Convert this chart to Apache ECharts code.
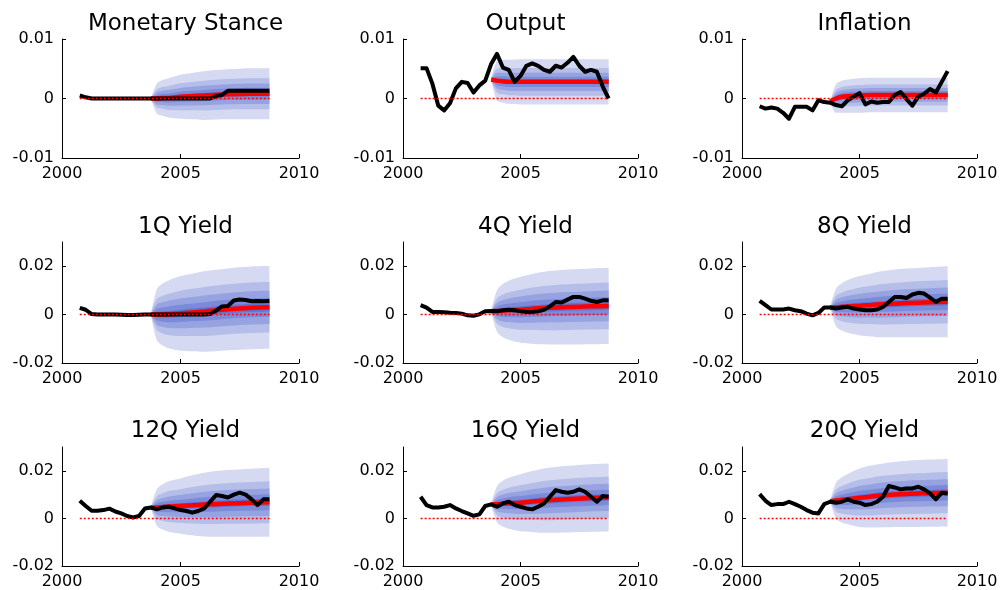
<!DOCTYPE html>
<html>
<head>
<meta charset="utf-8">
<title>Fan charts</title>
<script src="https://cdn.jsdelivr.net/npm/echarts@6/dist/echarts.min.js"></script>
<style>
  html, body { margin: 0; padding: 0; background: #ffffff; }
  #fan-grid { width: 1005px; height: 590px; }
</style>
</head>
<body>
<div id="fan-grid"></div>
<script>
// x axis runs quarter by quarter from 2000 to 2010
var axisQuarters = [2000, 2000.25, 2000.5, 2000.75, 2001, 2001.25, 2001.5, 2001.75, 2002, 2002.25,
    2002.5, 2002.75, 2003, 2003.25, 2003.5, 2003.75, 2004, 2004.25, 2004.5, 2004.75, 2005, 2005.25,
    2005.5, 2005.75, 2006, 2006.25, 2006.5, 2006.75, 2007, 2007.25, 2007.5, 2007.75, 2008, 2008.25,
    2008.5, 2008.75, 2009, 2009.25, 2009.5, 2009.75, 2010];
// quarterly history, 2000Q4 .. 2008Q4
var quarterDates = [2000.75, 2001, 2001.25, 2001.5, 2001.75, 2002, 2002.25, 2002.5, 2002.75,
    2003, 2003.25, 2003.5, 2003.75, 2004, 2004.25, 2004.5, 2004.75, 2005, 2005.25, 2005.5, 2005.75,
    2006, 2006.25, 2006.5, 2006.75, 2007, 2007.25, 2007.5, 2007.75, 2008, 2008.25, 2008.5, 2008.75];
// dates where the forecast median and fan width were read
var fanDates = [2003.75, 2004, 2004.25, 2004.5, 2005, 2005.5, 2006, 2007, 2008, 2008.75];

var xTicks = ['2000', '2005', '2010'];
var yTicksMacro = [-0.01, 0, 0.01];
var yTicksYield = [-0.02, 0, 0.02];

// band half widths as share of the outer half width, outer -> inner
var fanShares = [1, 0.61, 0.4, 0.23, 0.1];
var fanColors = ['#d5d9f1', '#b5bde9', '#97a3e1', '#7b8bda', '#5f74d3'];

var panelTitles = ['Monetary Stance', 'Output', 'Inflation', '1Q Yield', '4Q Yield', '8Q Yield',
    '12Q Yield', '16Q Yield', '20Q Yield'];

var actualMonetary = [0.0005, 0.0002, 0, 0, 0, 0, 0, 0, 0, 0, 0, 0, 0, 0, 0, 0, 0, 0, 0, 0, 0, 0, 0,
    0.0004, 0.0006, 0.0013, 0.0013, 0.0013, 0.0013, 0.0013, 0.0013, 0.0013, 0.0013];
var actualOutput = [0.0051, 0.0051, 0.0025, -0.0012, -0.002, -0.0008, 0.0017, 0.0028, 0.0026, 0.001,
    0.0022, 0.003, 0.0058, 0.0075, 0.0052, 0.0048, 0.0028, 0.0038, 0.0055, 0.0059, 0.0055, 0.0048,
    0.0045, 0.0055, 0.0052, 0.006, 0.007, 0.0055, 0.0045, 0.0048, 0.0045, 0.002, 0];
var actualInflation = [-0.0013, -0.0017, -0.0015, -0.0017, -0.0024, -0.0034, -0.0014, -0.0014, -0.0014,
    -0.002, -0.0003, -0.0006, -0.0007, -0.0011, -0.0013, -0.0003, 0.0003, 0.0009, -0.001, -0.0005,
    -0.0007, -0.0006, -0.0006, 0.0006, 0.0011, -0.0001, -0.0012, 0.0003, 0.0008, 0.0016, 0.001, 0.0028, 0.0046];
var actual1Q = [0.0028, 0.002, 0.0002, 0, 0, 0, 0, -0.0001, -0.0002, -0.0002, -0.0001, 0, 0, 0, 0, 0,
    0, 0, 0, 0, 0, 0, 0.0002, 0.0016, 0.0034, 0.0036, 0.0058, 0.0062, 0.006, 0.0055, 0.0056, 0.0055, 0.0056];
var actual4Q = [0.0039, 0.0029, 0.0011, 0.0011, 0.001, 0.0008, 0.0007, 0.0004, -0.0003, -0.0005, 0.0001,
    0.0014, 0.0015, 0.0014, 0.0018, 0.002, 0.0018, 0.0014, 0.0011, 0.0011, 0.0014, 0.002, 0.0034, 0.0052,
    0.005, 0.0062, 0.0073, 0.0073, 0.0066, 0.0057, 0.0052, 0.0059, 0.0059];
var actual8Q = [0.0057, 0.0039, 0.0021, 0.0021, 0.0021, 0.0025, 0.0018, 0.0014, 0.0004, -0.0003, 0.0007,
    0.0029, 0.0029, 0.0025, 0.0029, 0.0032, 0.0025, 0.0021, 0.0018, 0.0018, 0.0021, 0.0032, 0.0052, 0.0073,
    0.0073, 0.0069, 0.0083, 0.009, 0.0087, 0.007, 0.0052, 0.0066, 0.0066];
var actual12Q = [0.0074, 0.0052, 0.0032, 0.0032, 0.0035, 0.0041, 0.0029, 0.0021, 0.001, 0.0004, 0.001,
    0.0042, 0.0046, 0.0038, 0.0046, 0.0049, 0.0042, 0.0035, 0.0031, 0.0024, 0.0031, 0.0042, 0.007, 0.0098,
    0.0094, 0.0088, 0.01, 0.0108, 0.01, 0.008, 0.0056, 0.008, 0.008];
var actual16Q = [0.0091, 0.0056, 0.0046, 0.0046, 0.0049, 0.0056, 0.0042, 0.0031, 0.0021, 0.0011, 0.0017,
    0.0052, 0.0059, 0.0049, 0.0063, 0.007, 0.0056, 0.0049, 0.0042, 0.0038, 0.0049, 0.0063, 0.0091, 0.0119,
    0.0112, 0.0108, 0.0112, 0.0122, 0.0112, 0.0091, 0.007, 0.0094, 0.0091];
var actual20Q = [0.0102, 0.0074, 0.0056, 0.006, 0.006, 0.007, 0.006, 0.0049, 0.0035, 0.0024, 0.0021,
    0.006, 0.007, 0.0066, 0.007, 0.008, 0.007, 0.0066, 0.0056, 0.006, 0.007, 0.0091, 0.0136, 0.013,
    0.0122, 0.0126, 0.0126, 0.0133, 0.0122, 0.0105, 0.008, 0.0108, 0.0105];

// forecast median (red) at fanDates
var medianMonetary = [0, 0, 0.0001, 0.0001, 0.0003, 0.0004, 0.0005, 0.0007, 0.0008, 0.0008];
var medianOutput = [0.0032, 0.003, 0.0029, 0.0028, 0.0028, 0.0028, 0.0028, 0.0028, 0.0028, 0.0028];
var medianInflation = [-0.0005, 0, 0.0003, 0.0004, 0.0005, 0.0006, 0.0006, 0.0006, 0.0006, 0.0006];
var median1Q = [0, 0, 0, 0.0001, 0.0005, 0.0009, 0.0013, 0.0022, 0.0028, 0.003];
var median4Q = [0.0014, 0.0015, 0.0016, 0.0018, 0.002, 0.0024, 0.0027, 0.0031, 0.0034, 0.0036];
var median8Q = [0.0029, 0.003, 0.0032, 0.0034, 0.0037, 0.004, 0.0043, 0.0048, 0.0051, 0.0053];
var median12Q = [0.0045, 0.0046, 0.0048, 0.005, 0.0052, 0.0055, 0.0058, 0.0063, 0.0066, 0.0068];
var median16Q = [0.0058, 0.006, 0.0062, 0.0064, 0.0066, 0.0071, 0.0075, 0.0081, 0.0086, 0.0088];
var median20Q = [0.0072, 0.0075, 0.0078, 0.0081, 0.0087, 0.0092, 0.0097, 0.0103, 0.0106, 0.0108];

// half width of the outermost band at fanDates
var spreadMonetary = [0, 0.0025, 0.003, 0.0033, 0.0037, 0.0039, 0.0041, 0.0042, 0.0043, 0.0043];
var spreadOutput = [0, 0.0033, 0.0036, 0.0037, 0.0038, 0.0038, 0.0038, 0.0038, 0.0038, 0.0038];
var spreadInflation = [0, 0.0024, 0.0027, 0.0028, 0.0029, 0.0029, 0.0029, 0.0029, 0.0029, 0.0029];
var spread1Q = [0, 0.0105, 0.0128, 0.014, 0.0154, 0.016, 0.0166, 0.0169, 0.0171, 0.0171];
var spread4Q = [0, 0.0085, 0.011, 0.0122, 0.0136, 0.0144, 0.015, 0.0155, 0.0157, 0.0158];
var spread8Q = [0, 0.0078, 0.0098, 0.0109, 0.0122, 0.013, 0.0137, 0.0142, 0.0145, 0.0147];
var spread12Q = [0, 0.0076, 0.0095, 0.0106, 0.0116, 0.0126, 0.0134, 0.014, 0.0143, 0.0145];
var spread16Q = [0, 0.0076, 0.0096, 0.0107, 0.012, 0.0128, 0.0135, 0.014, 0.0142, 0.0143];
var spread20Q = [0, 0.0075, 0.0095, 0.0106, 0.0123, 0.013, 0.0134, 0.0139, 0.0141, 0.0142];

var panels = [
    { actual: actualMonetary, median: medianMonetary, spread: spreadMonetary, yTicks: yTicksMacro, yMax: 0.01 },
    { actual: actualOutput, median: medianOutput, spread: spreadOutput, yTicks: yTicksMacro, yMax: 0.01 },
    { actual: actualInflation, median: medianInflation, spread: spreadInflation, yTicks: yTicksMacro, yMax: 0.01 },
    { actual: actual1Q, median: median1Q, spread: spread1Q, yTicks: yTicksYield, yMax: 0.03 },
    { actual: actual4Q, median: median4Q, spread: spread4Q, yTicks: yTicksYield, yMax: 0.03 },
    { actual: actual8Q, median: median8Q, spread: spread8Q, yTicks: yTicksYield, yMax: 0.03 },
    { actual: actual12Q, median: median12Q, spread: spread12Q, yTicks: yTicksYield, yMax: 0.03 },
    { actual: actual16Q, median: median16Q, spread: spread16Q, yTicks: yTicksYield, yMax: 0.03 },
    { actual: actual20Q, median: median20Q, spread: spread20Q, yTicks: yTicksYield, yMax: 0.03 }
];

// layout in px
var colLeft = [62, 403, 742];
var colWidth = [237, 235, 235];
var rowTop = [39, 242, 447];
var rowHeight = [119, 121, 119];
var titleTop = [8, 211, 415];
var fontName = 'DejaVu Sans';

function lineSeries(i, extra) {
    var s = {
        type: 'line',
        xAxisIndex: i,
        yAxisIndex: i,
        symbol: 'none',
        silent: true
    };
    return Object.assign(s, extra);
}

function renderFanGrid() {
    var chartDom = document.getElementById('fan-grid');
    var myChart = echarts.init(chartDom, null, { renderer: 'canvas' });

    var grids = [], titles = [], xAxes = [], yAxes = [], series = [];
    var categories = axisQuarters.map(String);
    var showTick = function(idx, label) { return xTicks.indexOf(label) >= 0; };

    panels.forEach(function(p, i) {
        var row = Math.floor(i / 3);
        var col = i % 3;
        grids.push({
            left: colLeft[col],
            top: rowTop[row],
            width: colWidth[col],
            height: rowHeight[row]
        });
        titles.push({
            text: panelTitles[i],
            left: colLeft[col] + colWidth[col] / 2,
            top: titleTop[row],
            textAlign: 'center',
            textStyle: { fontFamily: fontName, fontSize: 23, fontWeight: 'normal', color: '#000000' }
        });
        xAxes.push({
            type: 'category',
            gridIndex: i,
            data: categories,
            boundaryGap: false,
            axisLine: { show: true, onZero: false, lineStyle: { color: '#000000', width: 1 } },
            axisTick: { show: true, inside: true, length: 4, interval: showTick, lineStyle: { color: '#000000' } },
            axisLabel: { interval: showTick, color: '#000000', fontFamily: fontName, fontSize: 16, margin: 8 },
            splitLine: { show: false }
        });
        yAxes.push({
            type: 'value',
            gridIndex: i,
            min: p.yTicks[0],
            max: p.yMax,
            axisLine: { show: true, onZero: false, lineStyle: { color: '#000000', width: 1 } },
            axisTick: { show: true, inside: true, length: 4, customValues: p.yTicks, lineStyle: { color: '#000000' } },
            axisLabel: {
                customValues: p.yTicks,
                color: '#000000',
                fontFamily: fontName,
                fontSize: 16,
                margin: 8,
                formatter: function(v) { return String(+v.toFixed(4)); }
            },
            splitLine: { show: false }
        });

        // fan: each band is its own stack (hidden lower edge + band height), outer first
        fanShares.forEach(function(share, L) {
            var stackName = 'fan' + i + '_' + L;
            series.push(lineSeries(i, {
                stack: stackName,
                stackStrategy: 'all',
                smooth: 0.35,
                lineStyle: { width: 0, opacity: 0 },
                data: fanDates.map((d, k) => [String(d), p.median[k] - share * p.spread[k]])
            }));
            series.push(lineSeries(i, {
                stack: stackName,
                stackStrategy: 'all',
                smooth: 0.35,
                lineStyle: { width: 0, opacity: 0 },
                areaStyle: { color: fanColors[L], opacity: 1 },
                data: fanDates.map((d, k) => [String(d), 2 * share * p.spread[k]])
            }));
        });

        series.push(lineSeries(i, {
            smooth: 0.35,
            lineStyle: { color: '#ff0000', width: 4.5 },
            data: fanDates.map((d, k) => [String(d), p.median[k]])
        }));
        series.push(lineSeries(i, {
            lineStyle: { color: '#000000', width: 4, join: 'round' },
            data: quarterDates.map((d, k) => [String(d), p.actual[k]])
        }));
        series.push(lineSeries(i, {
            lineStyle: { color: '#ff0000', width: 1.5, type: [2, 2] },
            data: [[String(quarterDates[0]), 0], [String(quarterDates[quarterDates.length - 1]), 0]]
        }));
    });

    var option = {
        animation: false,
        backgroundColor: '#ffffff',
        title: titles,
        grid: grids,
        xAxis: xAxes,
        yAxis: yAxes,
        series: series
    };
    myChart.setOption(option);
}

document.addEventListener('DOMContentLoaded', function() {
    renderFanGrid();
});
</script>
</body>
</html>
